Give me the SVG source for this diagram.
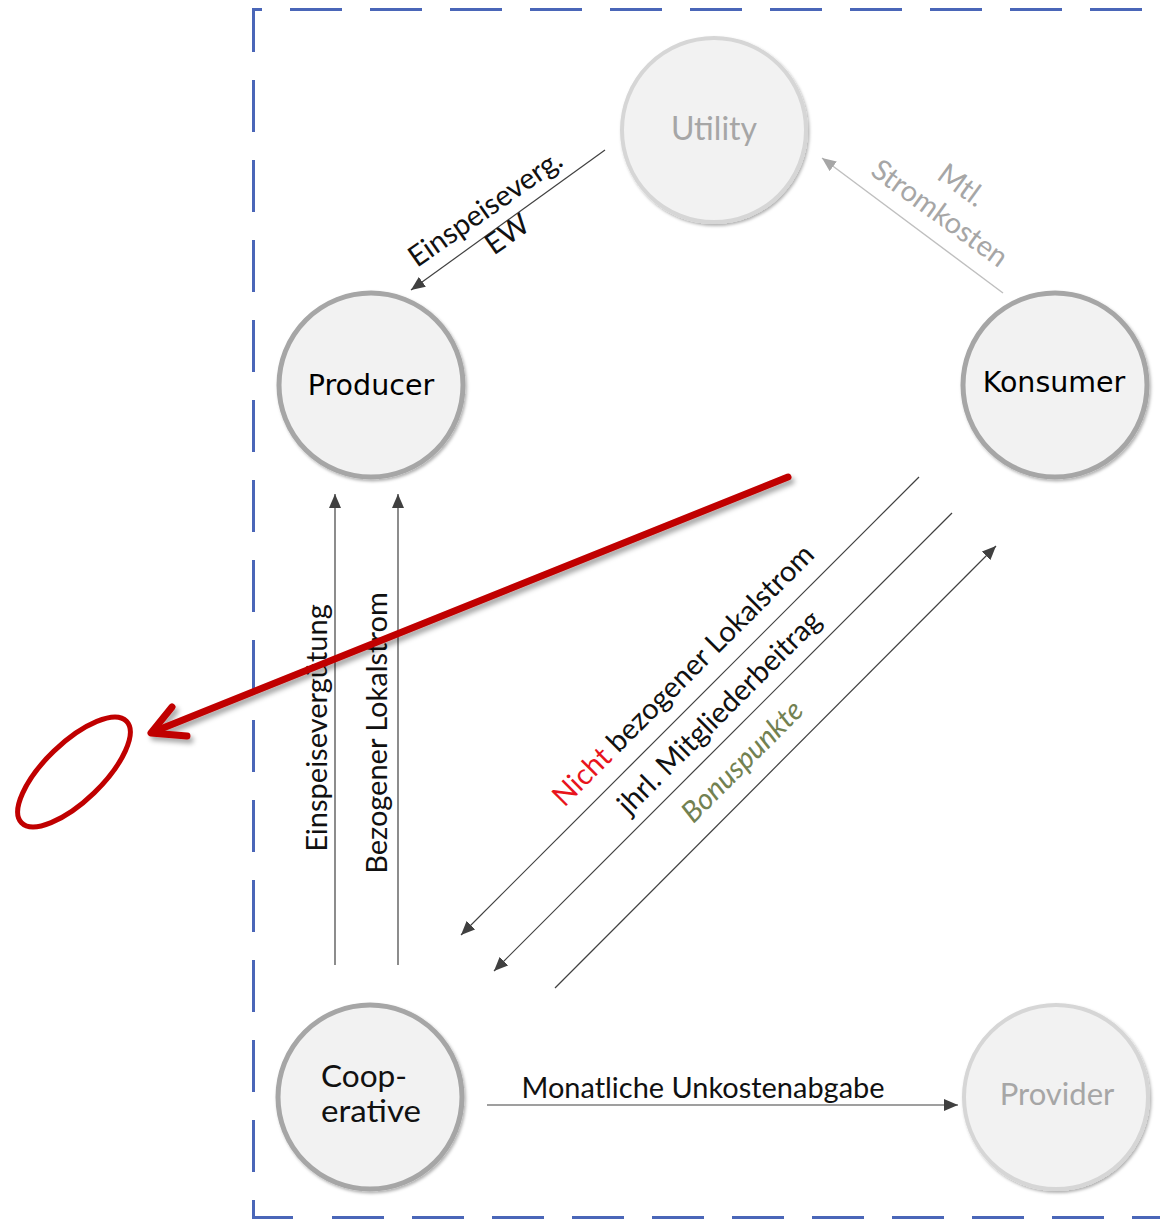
<svg xmlns="http://www.w3.org/2000/svg" width="1160" height="1220" viewBox="0 0 1160 1220">
  <style>
    .frame { fill: none; stroke: #4a66b8; stroke-width: 3; }
    .dash { stroke-dasharray: 52 28; }
    .node { fill: #f2f2f2; }
    .strong { stroke: #a6a6a6; stroke-width: 5; }
    .faint { stroke: #d6d6d6; stroke-width: 4; }
    .ver { font-family: "DejaVu Sans", Verdana, sans-serif; font-size: 28.5px; fill: #000; }
    .cal { font-family: Lato, "Liberation Sans", sans-serif; font-size: 29px; fill: #111; }
    .grey { fill: #a6a6a6; }
    .link { stroke: #404040; stroke-width: 1.2; fill: none; marker-end: url(#tip); }
    .link-light { stroke: #bfbfbf; stroke-width: 1.4; fill: none; marker-end: url(#tip-light); }
    .mark { stroke: #c00000; stroke-width: 7; fill: none; stroke-linecap: round; stroke-linejoin: round; }
  </style>
  <defs>
    <marker id="tip" markerUnits="userSpaceOnUse" viewBox="0 0 14 12" markerWidth="14" markerHeight="12" refX="14" refY="6" orient="auto">
      <path d="M0,0 L14,6 L0,12 z" fill="#404040"/>
    </marker>
    <marker id="tip-light" markerUnits="userSpaceOnUse" viewBox="0 0 14 12" markerWidth="14" markerHeight="12" refX="14" refY="6" orient="auto">
      <path d="M0,0 L14,6 L0,12 z" fill="#a6a6a6"/>
    </marker>
    <filter id="soft" x="-20%" y="-20%" width="140%" height="140%">
      <feDropShadow dx="1.5" dy="2" stdDeviation="1.5" flood-color="#000" flood-opacity="0.3"/>
    </filter>
    <filter id="lift" x="-10%" y="-30%" width="120%" height="160%">
      <feDropShadow dx="3" dy="4" stdDeviation="2.5" flood-color="#000" flood-opacity="0.35"/>
    </filter>
  </defs>

  <!-- dashed system boundary -->
  <g id="boundary">
    <line class="frame dash" x1="290" y1="9.5" x2="1160" y2="9.5"/>
    <path class="frame" d="M262,9.5 H253.5 V52"/>
    <line class="frame dash" x1="253.5" y1="80" x2="253.5" y2="1172"/>
    <path class="frame" d="M253.5,1200 V1217.5 H293"/>
    <line class="frame dash" x1="332" y1="1217.5" x2="1160" y2="1217.5"/>
  </g>

  <!-- connectors -->
  <g id="connectors">
    <line class="link" x1="605" y1="150" x2="411" y2="290"/>
    <line class="link-light" x1="1003" y1="293" x2="822" y2="158"/>
    <line class="link" x1="335" y1="965" x2="335" y2="494"/>
    <line class="link" x1="398" y1="965" x2="398" y2="494"/>
    <line class="link" x1="919" y1="477" x2="461" y2="935"/>
    <line class="link" x1="952" y1="513" x2="494" y2="971"/>
    <line class="link" x1="555" y1="988" x2="996" y2="546"/>
    <line class="link" x1="487" y1="1105" x2="958" y2="1105"/>
  </g>

  <!-- connector labels -->
  <g id="labels">
    <text class="cal" x="485" y="208" dy="0.35em" text-anchor="middle" transform="rotate(-35 485 208)">Einspeiseverg.</text>
    <text class="cal" x="507" y="234" dy="0.35em" text-anchor="middle" transform="rotate(-35 507 234)">EW</text>
    <text class="cal grey" x="962" y="185" dy="0.35em" text-anchor="middle" transform="rotate(36 962 185)">Mtl.</text>
    <text class="cal grey" x="940" y="213" dy="0.35em" text-anchor="middle" transform="rotate(36 940 213)">Stromkosten</text>
    <text class="cal" x="317" y="728" dy="0.35em" text-anchor="middle" transform="rotate(-90 317 728)">Einspeisevergütung</text>
    <text class="cal" x="377" y="733" dy="0.35em" text-anchor="middle" transform="rotate(-90 377 733)">Bezogener Lokalstrom</text>
    <text class="cal" x="683" y="675" dy="0.35em" text-anchor="middle" transform="rotate(-45 683 675)"><tspan fill="#e8141c">Nicht</tspan> bezogener Lokalstrom</text>
    <text class="cal" x="719" y="712" dy="0.35em" text-anchor="middle" transform="rotate(-45 719 712)">jhrl. Mitgliederbeitrag</text>
    <text class="cal" x="742" y="761" dy="0.35em" text-anchor="middle" font-style="italic" style="fill:#728151" transform="rotate(-45 742 761)">Bonuspunkte</text>
    <text class="cal" x="703" y="1098" text-anchor="middle" textLength="363" lengthAdjust="spacingAndGlyphs">Monatliche Unkostenabgabe</text>
  </g>

  <!-- nodes -->
  <g id="utility">
    <circle class="node faint" cx="714" cy="130" r="92" filter="url(#soft)"/>
    <text class="cal grey" x="714" y="140" text-anchor="middle" style="font-size:32px">Utility</text>
  </g>
  <g id="producer">
    <circle class="node strong" cx="371" cy="385" r="92" filter="url(#soft)"/>
    <text class="ver" x="371" y="395" text-anchor="middle">Producer</text>
  </g>
  <g id="konsumer">
    <circle class="node strong" cx="1055" cy="385" r="92" filter="url(#soft)"/>
    <text class="ver" x="1054" y="392" text-anchor="middle">Konsumer</text>
  </g>
  <g id="cooperative">
    <circle class="node strong" cx="370" cy="1097" r="92" filter="url(#soft)"/>
    <text class="cal" x="321" y="1087" style="font-size:31px" textLength="86" lengthAdjust="spacingAndGlyphs">Coop-</text>
    <text class="cal" x="321" y="1122" style="font-size:31px" textLength="100" lengthAdjust="spacingAndGlyphs">erative</text>
  </g>
  <g id="provider">
    <circle class="node faint" cx="1056" cy="1097" r="92" filter="url(#soft)"/>
    <text class="cal grey" x="1057" y="1105" text-anchor="middle" style="font-size:31px">Provider</text>
  </g>

  <!-- red highlight: arrow and ellipse -->
  <g id="highlight">
    <g filter="url(#lift)">
      <line class="mark" x1="788" y1="477" x2="153" y2="732"/>
      <polyline class="mark" points="172,707 151,733 187,736"/>
    </g>
    <ellipse cx="74" cy="772" rx="73" ry="29" transform="rotate(-44 74 772)" fill="none" stroke="#c00000" stroke-width="5"/>
  </g>
</svg>
